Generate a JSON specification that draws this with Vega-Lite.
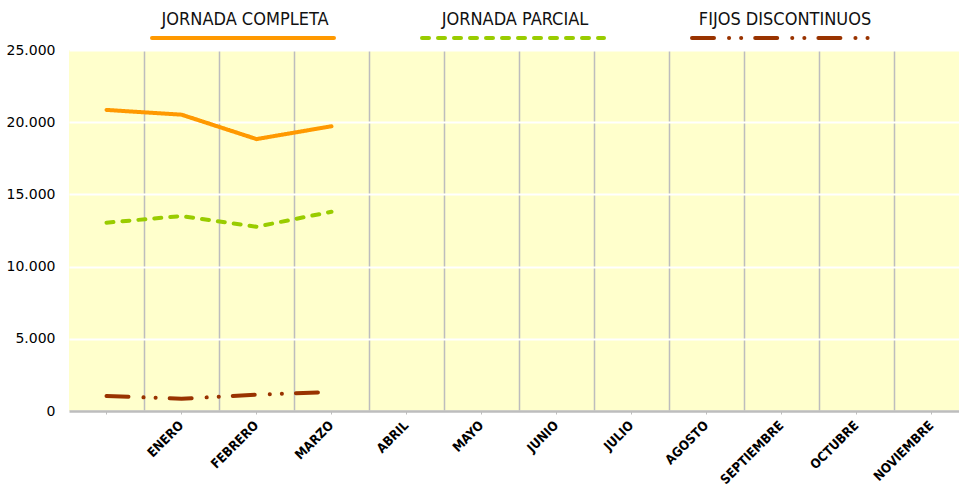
{
  "$schema": "https://vega.github.io/schema/vega-lite/v6.json",
  "width": 890,
  "height": 361,
  "autosize": "none",
  "padding": {"left": 69, "top": 50, "right": 0, "bottom": 74},
  "background": "#FFFFFF",
  "config": {
    "view": {"fill": "#FFFFCC", "stroke": null},
    "font": "DejaVu Sans"
  },
  "data": {
    "values": [
      {"mes": " ", "serie": "JORNADA COMPLETA", "valor": 20850},
      {"mes": "ENERO", "serie": "JORNADA COMPLETA", "valor": 20520},
      {"mes": "FEBRERO", "serie": "JORNADA COMPLETA", "valor": 18830},
      {"mes": "MARZO", "serie": "JORNADA COMPLETA", "valor": 19720},
      {"mes": " ", "serie": "JORNADA PARCIAL", "valor": 13040},
      {"mes": "ENERO", "serie": "JORNADA PARCIAL", "valor": 13500},
      {"mes": "FEBRERO", "serie": "JORNADA PARCIAL", "valor": 12760},
      {"mes": "MARZO", "serie": "JORNADA PARCIAL", "valor": 13800},
      {"mes": " ", "serie": "FIJOS DISCONTINUOS", "valor": 1040},
      {"mes": "ENERO", "serie": "FIJOS DISCONTINUOS", "valor": 850},
      {"mes": "FEBRERO", "serie": "FIJOS DISCONTINUOS", "valor": 1130},
      {"mes": "MARZO", "serie": "FIJOS DISCONTINUOS", "valor": 1320}
    ]
  },
  "layer": [
    {
      "mark": {"type": "line", "opacity": 0},
      "encoding": {
        "x": {
          "field": "mes", "type": "ordinal",
          "scale": {"type": "band", "domain": [" ", "ENERO", "FEBRERO", "MARZO", "ABRIL", "MAYO", "JUNIO", "JULIO", "AGOSTO", "SEPTIEMBRE", "OCTUBRE", "NOVIEMBRE"], "range": [0, 900], "paddingInner": 0, "paddingOuter": 0},
          "axis": {"orient": "bottom", "title": null, "grid": true, "bandPosition": 0, "labels": false, "ticks": false, "domain": false,
                   "gridColor": {"condition": {"test": "datum.value === ' '", "value": "rgba(0,0,0,0)"}, "value": "#BDBDBD"}, "gridWidth": 1.5}
        },
        "y": {"field": "valor", "type": "quantitative", "scale": {"domain": [0, 25000], "nice": false, "zero": true},
          "axis": {"title": null, "values": [0, 5000, 10000, 15000, 20000, 25000], "labelExpr": "replace(format(datum.value, ','), ',', '.')",
                   "grid": true, "gridColor": "#FFFFFF", "gridWidth": 2, "ticks": false, "domain": false,
                   "labelFontSize": 14, "labelColor": "#000000", "labelPadding": 14}},
        "detail": {"field": "serie"}
      }
    },
    {
      "mark": {"type": "line", "strokeWidth": 4, "strokeCap": "round", "strokeJoin": "round"},
      "encoding": {
        "x": {
          "field": "mes", "type": "ordinal",
          "axis": {"orient": "bottom", "title": null, "grid": false, "labelAngle": -45, "labelAlign": "right", "labelBaseline": "middle",
                   "labelFont": "DejaVu Sans Condensed", "labelFontWeight": "bold", "labelFontSize": 13, "labelColor": "#000000", "labelPadding": 9,
                   "ticks": true, "tickSize": 3, "tickColor": "#BDBDBD", "domain": true, "domainColor": "#BDBDBD", "domainWidth": 2.5}
        },
        "y": {
          "field": "valor", "type": "quantitative", "scale": {"domain": [0, 25000], "nice": false, "zero": true},
          "axis": {"title": null, "values": [0, 5000, 10000, 15000, 20000, 25000], "labelExpr": "replace(format(datum.value, ','), ',', '.')",
                   "grid": true, "gridColor": "#FFFFFF", "gridWidth": 2, "ticks": false, "domain": false,
                   "labelFontSize": 14, "labelColor": "#000000", "labelPadding": 14}
        },
        "color": {
          "field": "serie", "type": "nominal",
          "scale": {"domain": ["JORNADA COMPLETA", "JORNADA PARCIAL", "FIJOS DISCONTINUOS"], "range": ["#FF9900", "#99CC00", "#993300"]},
          "legend": {"orient": "none", "legendX": 81, "legendY": -105, "direction": "horizontal", "title": null,
                     "symbolType": "stroke", "symbolSize": 33124, "symbolStrokeWidth": 4,
                     "labelAlign": "center", "labelOffset": -91, "columnPadding": 72,
                     "labelFont": "DejaVu Sans Condensed", "labelFontSize": 18, "labelColor": "#111111", "labelLimit": 400,
                     "encode": {"labels": {"update": {"dy": {"value": -18}}}, "symbols": {"update": {"strokeCap": {"value": "round"}}}}}
        },
        "strokeDash": {
          "field": "serie", "type": "nominal",
          "scale": {"domain": ["JORNADA COMPLETA", "JORNADA PARCIAL", "FIJOS DISCONTINUOS"], "range": [[1, 0], [7, 9], [22, 15, 0.1, 12, 0.1, 14]]},
          "legend": {"orient": "none", "legendX": 81, "legendY": -105, "direction": "horizontal", "title": null,
                     "symbolType": "stroke", "symbolSize": 33124, "symbolStrokeWidth": 4,
                     "labelAlign": "center", "labelOffset": -91, "columnPadding": 72,
                     "labelFont": "DejaVu Sans Condensed", "labelFontSize": 18, "labelColor": "#111111", "labelLimit": 400,
                     "encode": {"labels": {"update": {"dy": {"value": -18}}}, "symbols": {"update": {"strokeCap": {"value": "round"}}}}}
        }
      }
    }
  ],
  "resolve": {"axis": {"x": "independent"}}
}
